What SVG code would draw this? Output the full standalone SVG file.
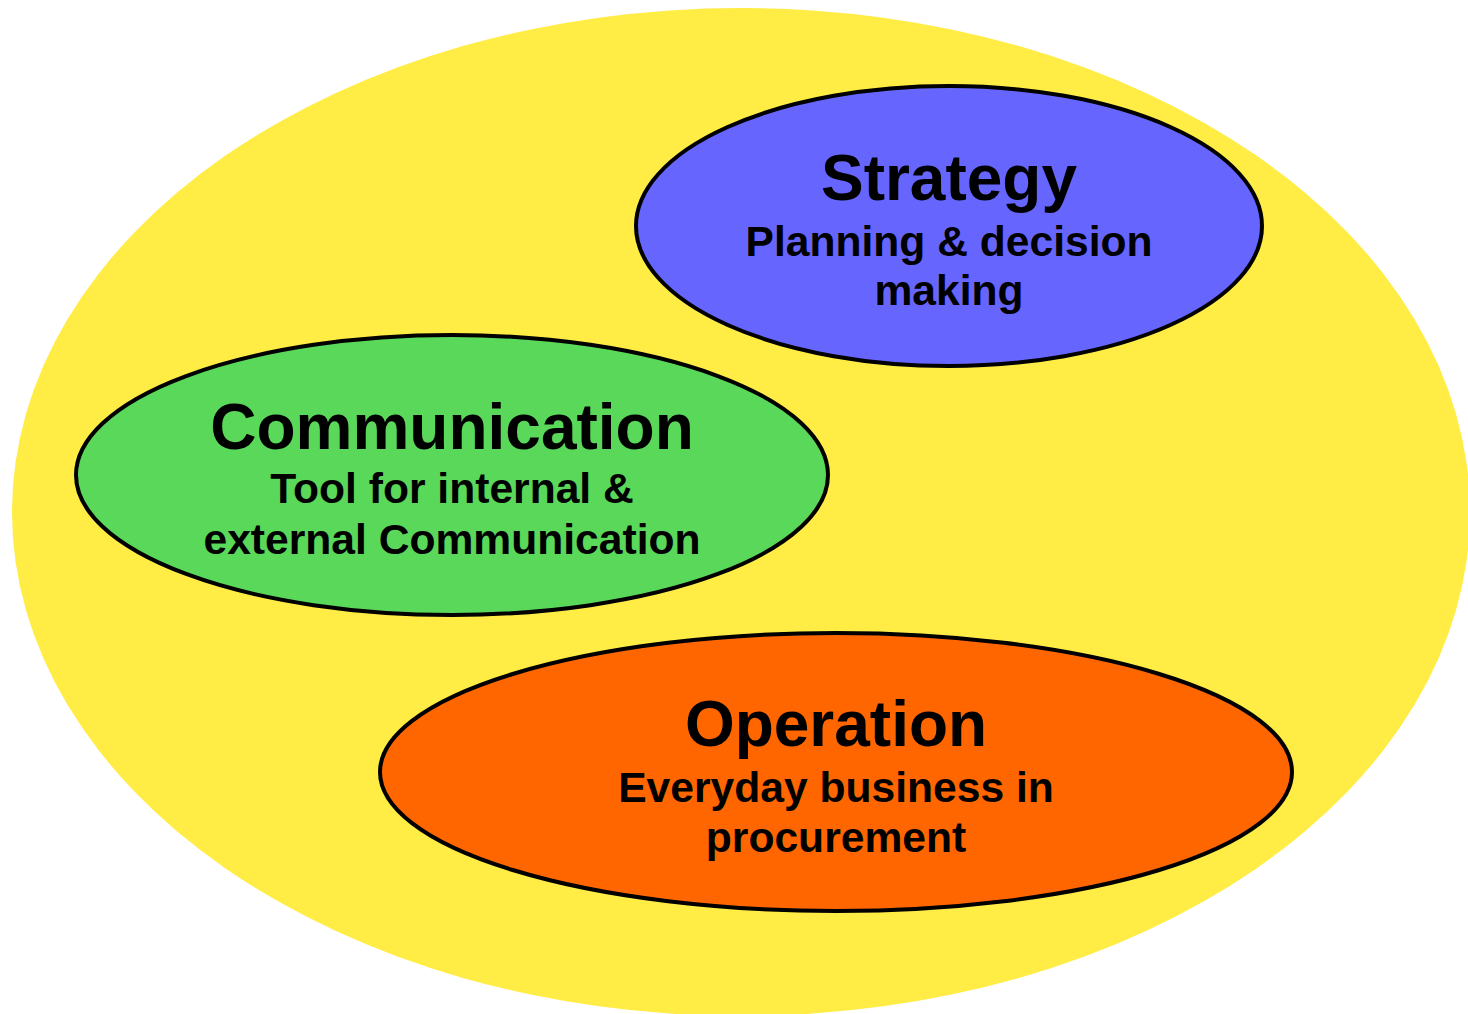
<svg xmlns="http://www.w3.org/2000/svg" width="1468" height="1014" viewBox="0 0 1468 1014">
<style>
.node{stroke:#000;stroke-width:4}
.t{font-family:"Liberation Sans",Arial,sans-serif;font-weight:bold;fill:#000;text-anchor:middle}
.h{font-size:64px}
.s{font-size:42.6px}
</style>
<rect width="1468" height="1014" fill="#fff"/>
<g id="outer">
<ellipse cx="741" cy="512" rx="729" ry="504" fill="#ffec45"/>
</g>
<g id="connectors"></g>
<g id="strategy">
<ellipse class="node" cx="949" cy="226" rx="313" ry="140" fill="#6666ff"/>
<text class="t h" x="949" y="200">Strategy</text>
<text class="t s" x="949" y="256">Planning &amp; decision</text>
<text class="t s" x="949" y="305">making</text>
</g>
<g id="communication">
<ellipse class="node" cx="452" cy="475" rx="376" ry="140" fill="#5ad85a"/>
<text class="t h" x="452" y="449">Communication</text>
<text class="t s" x="452" y="503">Tool for internal &amp;</text>
<text class="t s" x="452" y="554">external Communication</text>
</g>
<g id="operation">
<ellipse class="node" cx="836" cy="772" rx="456" ry="139" fill="#ff6600"/>
<text class="t h" x="836" y="746">Operation</text>
<text class="t s" x="836" y="802">Everyday business in</text>
<text class="t s" x="836" y="852">procurement</text>
</g>
</svg>
